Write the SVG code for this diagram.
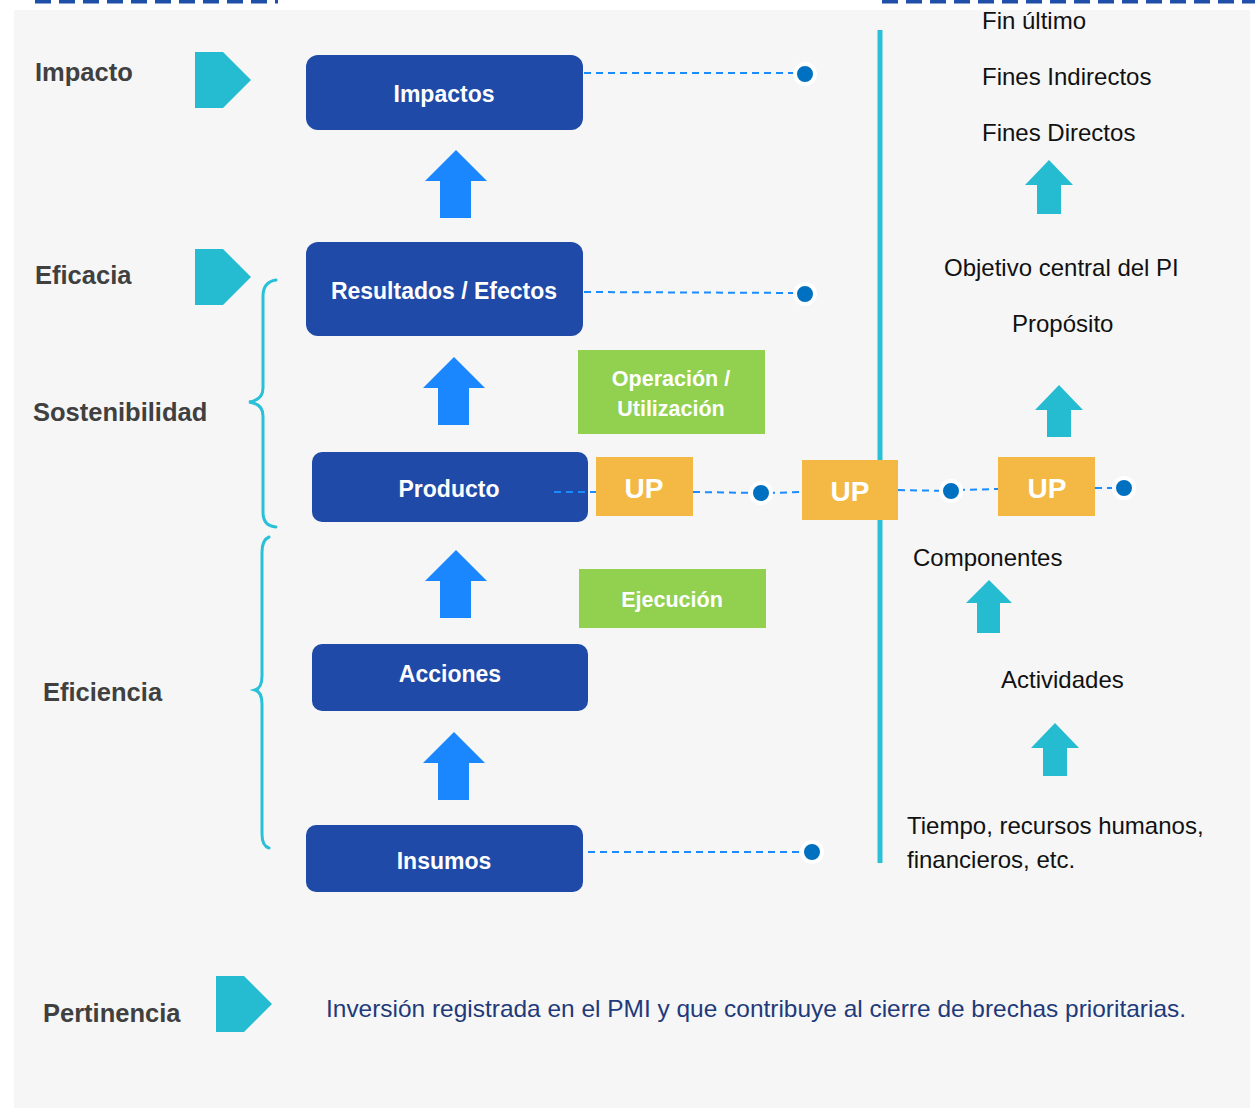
<svg xmlns="http://www.w3.org/2000/svg" width="1255" height="1110" viewBox="0 0 1255 1110">
<defs>
<style>
.bg{fill:#f6f6f6}
.node{fill:#1f4aa8}
.ntxt{font-family:"Liberation Sans",Arial,sans-serif;font-weight:bold;font-size:23px;fill:#ffffff;text-anchor:middle}
.lbl{font-family:"Liberation Sans",Arial,sans-serif;font-weight:bold;font-size:25.5px;fill:#404040}
.rt{font-family:"Liberation Sans",Arial,sans-serif;font-size:24px;fill:#111111}
.green{fill:#92d050}
.gtxt{font-family:"Liberation Sans",Arial,sans-serif;font-weight:bold;font-size:21.5px;fill:#ffffff;text-anchor:middle}
.up{fill:#f4b945}
.uptxt{font-family:"Liberation Sans",Arial,sans-serif;font-weight:bold;font-size:28px;fill:#ffffff;text-anchor:middle}
.pent{fill:#25bcd1}
.barrow{fill:#1a87ff}
.carrow{fill:#25bcd1}
.dash{stroke:#1a8cff;stroke-width:2;stroke-dasharray:7 5;fill:none}
.dot{fill:#0070c0;stroke:#ffffff;stroke-width:4}
.brace{fill:none;stroke:#29c0d8;stroke-width:3;stroke-linecap:round}
.topdash{stroke:#1f4fa8;stroke-width:5;stroke-dasharray:16 8;fill:none}
</style>
</defs>
<rect class="bg" x="14" y="10" width="1236" height="1098"/>
<line class="topdash" x1="35" y1="1" x2="278" y2="1"/>
<line class="topdash" x1="882" y1="1" x2="1255" y2="1"/>

<g id="labels-left">
<text class="lbl" x="35" y="81">Impacto</text>
<text class="lbl" x="35" y="284">Eficacia</text>
<text class="lbl" x="33" y="421">Sostenibilidad</text>
<text class="lbl" x="43" y="701">Eficiencia</text>
<text class="lbl" x="43" y="1022">Pertinencia</text>
</g>
<g id="pentagons">
<polygon class="pent" points="195,52 223,52 251,80 223,108 195,108"/>
<polygon class="pent" points="195,249 223,249 251,277 223,305 195,305"/>
<polygon class="pent" points="216,976 244,976 272,1004 244,1032 216,1032"/>
</g>
<g id="braces">
<path class="brace" d="M276,280 Q263,282 263,296 L263,388 Q263,400 249,402 Q263,404 263,416 L263,512 Q263,526 276,527"/>
<path class="brace" d="M269,537 Q262,540 262,552 L262,676 Q262,688 255,690 Q262,692 262,704 L262,834 Q262,846 269,848"/>
</g>

<g id="divider">
<line x1="880" y1="30" x2="880" y2="863" stroke="#29c0d8" stroke-width="5"/>
</g>

<g id="blue-arrows">
<polygon class="barrow" points="456,150 487,181 471,181 471,218 440,218 440,181 425,181"/>
<polygon class="barrow" points="454,357 485,388 469,388 469,425 438,425 438,388 423,388"/>
<polygon class="barrow" points="456,550 487,581 471,581 471,618 440,618 440,581 425,581"/>
<polygon class="barrow" points="454,732 485,763 469,763 469,800 438,800 438,763 423,763"/>
</g>

<g id="node-impactos">
<rect class="node" x="306" y="55" width="277" height="75" rx="12"/>
<text class="ntxt" x="444" y="102">Impactos</text>
</g>
<g id="node-resultados">
<rect class="node" x="306" y="242" width="277" height="94" rx="12"/>
<text class="ntxt" x="444" y="299">Resultados / Efectos</text>
</g>
<g id="node-producto">
<rect class="node" x="312" y="452" width="276" height="70" rx="10"/>
<text class="ntxt" x="449" y="497">Producto</text>
</g>
<g id="node-acciones">
<rect class="node" x="312" y="644" width="276" height="67" rx="10"/>
<text class="ntxt" x="450" y="682">Acciones</text>
</g>
<g id="node-insumos">
<rect class="node" x="306" y="825" width="277" height="67" rx="10"/>
<text class="ntxt" x="444" y="869">Insumos</text>
</g>

<g id="node-operacion">
<rect class="green" x="578" y="350" width="187" height="84"/>
<text class="gtxt" x="671" y="386">Operación /</text>
<text class="gtxt" x="671" y="416">Utilización</text>
</g>
<g id="node-ejecucion">
<rect class="green" x="579" y="569" width="187" height="59"/>
<text class="gtxt" x="672" y="607">Ejecución</text>
</g>

<g id="node-up1">
<rect class="up" x="596" y="457" width="97" height="59"/>
<text class="uptxt" x="644" y="498">UP</text>
</g>
<g id="node-up2">
<rect class="up" x="802" y="460" width="96" height="60"/>
<text class="uptxt" x="850" y="501">UP</text>
</g>
<g id="node-up3">
<rect class="up" x="998" y="457" width="97" height="59"/>
<text class="uptxt" x="1047" y="498">UP</text>
</g>

<g id="connectors">
<line class="dash" x1="584" y1="73" x2="800" y2="73"/>
<line class="dash" x1="584" y1="292" x2="800" y2="293"/>
<line class="dash" x1="588" y1="852" x2="808" y2="852"/>
<line class="dash" x1="554" y1="492" x2="596" y2="492"/>
<line class="dash" x1="693" y1="492" x2="758" y2="493"/>
<line class="dash" x1="768" y1="493" x2="802" y2="492"/>
<line class="dash" x1="898" y1="490" x2="948" y2="491"/>
<line class="dash" x1="958" y1="490" x2="998" y2="489"/>
<line class="dash" x1="1095" y1="488" x2="1120" y2="488"/>
<circle class="dot" cx="805" cy="74" r="10"/>
<circle class="dot" cx="805" cy="294" r="10"/>
<circle class="dot" cx="812" cy="852" r="10"/>
<circle class="dot" cx="761" cy="493" r="10"/>
<circle class="dot" cx="951" cy="491" r="10"/>
<circle class="dot" cx="1124" cy="488" r="10"/>
</g>

<g id="right-texts">
<text class="rt" x="982" y="29">Fin último</text>
<text class="rt" x="982" y="85">Fines Indirectos</text>
<text class="rt" x="982" y="141">Fines Directos</text>
<text class="rt" x="944" y="276">Objetivo central del PI</text>
<text class="rt" x="1012" y="332">Propósito</text>
<text class="rt" x="913" y="566">Componentes</text>
<text class="rt" x="1001" y="688">Actividades</text>
<text class="rt" x="907" y="834">Tiempo, recursos humanos,</text>
<text class="rt" x="907" y="868">financieros, etc.</text>
</g>
<g id="cyan-arrows">
<polygon class="carrow" points="1049,160 1073,185 1061,185 1061,214 1037,214 1037,185 1025,185"/>
<polygon class="carrow" points="1059,385 1083,410 1071,410 1071,437 1047,437 1047,410 1035,410"/>
<polygon class="carrow" points="989,580 1012,603 1000,603 1000,633 977,633 977,603 966,603"/>
<polygon class="carrow" points="1055,723 1079,748 1067,748 1067,776 1043,776 1043,748 1031,748"/>
</g>

<g id="footer">
<text x="326" y="1017" font-family="'Liberation Sans',Arial,sans-serif" font-size="24" fill="#1f3a7a" textLength="860" lengthAdjust="spacingAndGlyphs">Inversión registrada en el PMI y que contribuye al cierre de brechas prioritarias.</text>
</g>
</svg>
